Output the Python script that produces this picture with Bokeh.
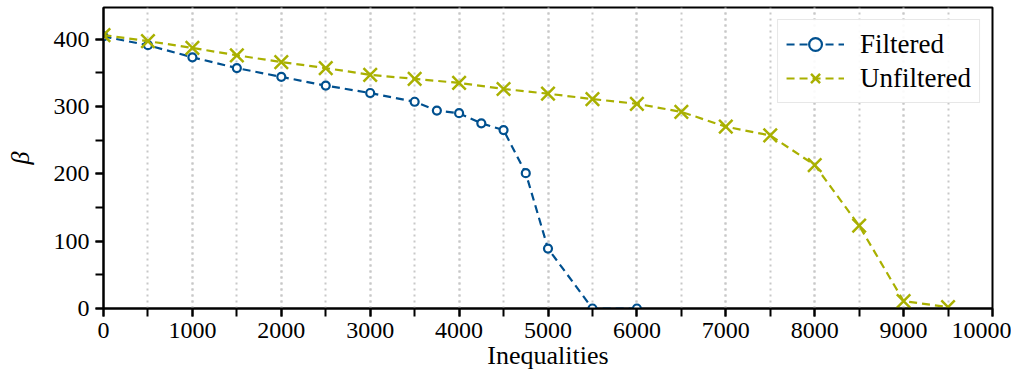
from bokeh.plotting import figure
from bokeh.models import Range1d, SingleIntervalTicker, Legend, LegendItem
from bokeh.embed import file_html
from bokeh.resources import INLINE

# Data
filt_x = [0, 500, 1000, 1500, 2000, 2500, 3000, 3500, 3750, 4000, 4250, 4500, 4750, 5000, 5500, 6000]
filt_y = [404, 391, 373, 357, 344, 331, 320, 307, 294, 290, 275, 265, 201, 89, 0, 0]
unf_x = [0, 500, 1000, 1500, 2000, 2500, 3000, 3500, 4000, 4500, 5000, 5500, 6000, 6500, 7000, 7500, 8000, 8500, 9000, 9500]
unf_y = [406, 397, 387, 376, 366, 357, 347, 341, 335, 326, 319, 311, 304, 292, 270, 257, 213, 123, 11, 2]

BLUE = "#00508f"
OLIVE = "#a9b000"
FONT = "Liberation Serif"

p = figure(width=1011, height=372, output_backend="svg", toolbar_location=None,
           x_range=Range1d(0, 10000), y_range=Range1d(0, 447),
           min_border_left=103, min_border_right=19, min_border_top=7, min_border_bottom=62)

p.outline_line_color = "black"
p.outline_line_width = 2
p.background_fill_color = "white"

p.xaxis.ticker = SingleIntervalTicker(interval=1000, num_minor_ticks=2)
p.yaxis.ticker = SingleIntervalTicker(interval=100, num_minor_ticks=2)
p.xgrid.ticker = p.xaxis.ticker

for ax in (p.xaxis, p.yaxis):
    ax.axis_line_width = 2
    ax.axis_line_color = "black"
    ax.major_tick_line_width = 2
    ax.minor_tick_line_width = 2
    ax.major_tick_out = 8
    ax.major_tick_in = 0
    ax.minor_tick_out = 8
    ax.minor_tick_in = 0
    ax.major_label_text_font = FONT
    ax.major_label_text_font_size = "24px"
    ax.major_label_text_color = "black"
    ax.axis_label_text_font = FONT
    ax.axis_label_text_font_size = "26px"
    ax.axis_label_text_font_style = "normal"
    ax.axis_label_text_color = "black"
    ax.major_label_standoff = 6

p.xaxis.axis_label = "Inequalities"
p.xaxis.axis_label_standoff = 0
p.yaxis.axis_label = "β"
p.yaxis.axis_label_text_font_style = "italic"
p.yaxis.axis_label_standoff = 16

p.ygrid.grid_line_color = None
p.xgrid.grid_line_color = "#c8c8c8"
p.xgrid.grid_line_dash = "2 4"
p.xgrid.grid_line_width = 2
p.xgrid.minor_grid_line_color = "#c8c8c8"
p.xgrid.minor_grid_line_dash = "2 4"
p.xgrid.minor_grid_line_width = 2

l1 = p.line(filt_x, filt_y, line_color=BLUE, line_width=2.2, line_dash="8 5")
s1 = p.scatter(filt_x, filt_y, marker="circle", size=8, fill_color="white",
               line_color=BLUE, line_width=2.2)
l2 = p.line(unf_x, unf_y, line_color=OLIVE, line_width=2.2, line_dash="8 5")
s2 = p.scatter(unf_x, unf_y, marker="x", size=19, line_color=OLIVE, line_width=2.5)

legend = Legend(items=[LegendItem(label="Filtered", renderers=[l1, s1]),
                       LegendItem(label="Unfiltered", renderers=[l2, s2])],
                location="top_right")
legend.label_text_font = FONT
legend.label_text_font_size = "27px"
legend.label_text_color = "black"
legend.border_line_color = "#d0d0d0"
legend.border_line_width = 1.5
legend.background_fill_alpha = 0.9
legend.glyph_width = 58
legend.glyph_height = 32
legend.label_standoff = 16
legend.label_height = 32
legend.spacing = 2
legend.padding = 8
legend.margin = 12
p.add_layout(legend)

open("out.html", "w").write(file_html(p, INLINE))
